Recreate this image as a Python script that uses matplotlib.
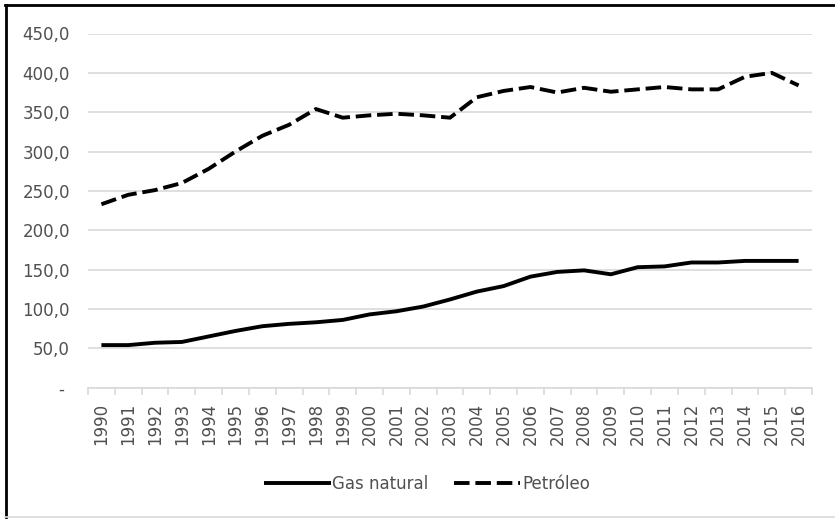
import matplotlib
matplotlib.use("Agg")
import matplotlib.pyplot as plt
from matplotlib.lines import Line2D
from matplotlib.ticker import FixedLocator, FuncFormatter

years = [str(y) for y in range(1990, 2017)]
gas_natural = [54, 54, 57, 58, 65, 72, 78, 81, 83, 86, 93, 97, 103, 112, 122,
               129, 141, 147, 149, 144, 153, 154, 159, 159, 161, 161, 161]
petroleo = [233, 245, 251, 260, 278, 300, 320, 334, 354, 343, 346, 348, 346,
            343, 369, 377, 382, 375, 381, 376, 379, 382, 379, 379, 395, 400, 384]
y_ticks = [0, 50, 100, 150, 200, 250, 300, 350, 400, 450]

plt.rcParams['font.family'] = ['DejaVu Sans']
txt = '#505050'
grid = '#d9d9d9'

fig = plt.figure(figsize=(8.35, 5.19), dpi=100)
ax = fig.add_axes([88/835, 1-387.6/519, (812-88)/835, (387.6-33.5)/519])

x = list(range(len(years)))
ax.plot(x, gas_natural, color='black', lw=2.8, solid_capstyle='butt', label='Gas natural')
ax.plot(x, petroleo, color='black', lw=2.8, dashes=(4.0, 1.5), dash_capstyle='butt',
        label='Petróleo')

ax.set_xlim(-0.5, len(years) - 0.5)
ax.set_ylim(0, 450)
ax.set_yticks(y_ticks)
ax.yaxis.set_major_formatter(FuncFormatter(
    lambda v, p: '- ' if v == 0 else f"{v:.1f}".replace('.', ',')))
ax.yaxis.grid(True, color=grid, lw=1.2)
ax.set_axisbelow(True)
ax.tick_params(axis='y', length=0, pad=13, labelsize=12, labelcolor=txt)

ax.set_xticks(x)
ax.set_xticklabels(years, rotation=90, fontsize=12, color=txt, va='top')
ax.xaxis.set_minor_locator(FixedLocator([i - 0.5 for i in range(len(years) + 1)]))
ax.tick_params(axis='x', which='major', length=0, pad=11)
ax.tick_params(axis='x', which='minor', length=5, color=grid, width=1.2)

for s in ['top', 'right', 'left']:
    ax.spines[s].set_visible(False)
ax.spines['bottom'].set_color(grid)
ax.spines['bottom'].set_linewidth(1.2)

leg = ax.legend(loc='center', bbox_to_anchor=(427/835, 1-484/519),
                bbox_transform=fig.transFigure, ncol=2, frameon=False,
                fontsize=12, handlelength=4.0, handletextpad=0.1,
                columnspacing=1.5)
for t in leg.get_texts():
    t.set_color(txt)

# outer frame
fig.add_artist(Line2D([5.5/835, 5.5/835], [1-4.5/519, 1-517/519], color='black', lw=2,
                      transform=fig.transFigure))
fig.add_artist(Line2D([5/835, 1], [1-4.5/519, 1-4.5/519], color='black', lw=2,
                      transform=fig.transFigure))
fig.add_artist(Line2D([5/835, 1], [1-517/519, 1-517/519], color=grid, lw=1.2,
                      transform=fig.transFigure))

fig.savefig('out.png', dpi=100)
